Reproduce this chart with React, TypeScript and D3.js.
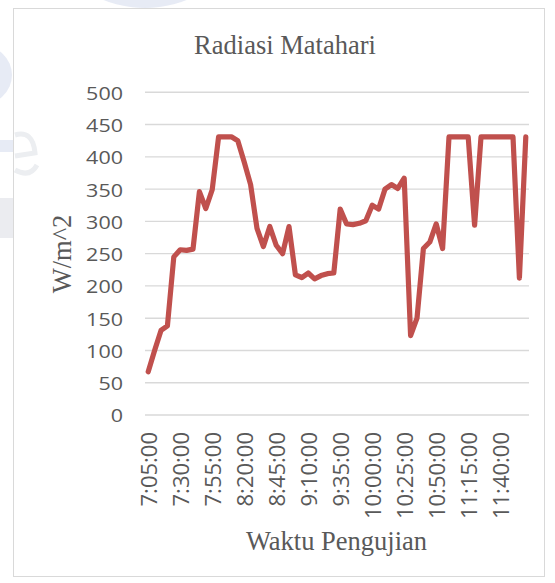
import React from "react";
import * as d3 from "d3";

const times: string[] = [
  "7:05:00", "7:10:00", "7:15:00", "7:20:00", "7:25:00", "7:30:00", "7:35:00", "7:40:00", "7:45:00", "7:50:00",
  "7:55:00", "8:00:00", "8:05:00", "8:10:00", "8:15:00", "8:20:00", "8:25:00", "8:30:00", "8:35:00", "8:40:00",
  "8:45:00", "8:50:00", "8:55:00", "9:00:00", "9:05:00", "9:10:00", "9:15:00", "9:20:00", "9:25:00", "9:30:00",
  "9:35:00", "9:40:00", "9:45:00", "9:50:00", "9:55:00", "10:00:00", "10:05:00", "10:10:00", "10:15:00", "10:20:00",
  "10:25:00", "10:30:00", "10:35:00", "10:40:00", "10:45:00", "10:50:00", "10:55:00", "11:00:00", "11:05:00", "11:10:00",
  "11:15:00", "11:20:00", "11:25:00", "11:30:00", "11:35:00", "11:40:00", "11:45:00", "11:50:00", "11:55:00", "12:00:00",
];

const radiasi: number[] = [
  67, 100, 131, 138, 245, 256, 255, 257, 346, 320,
  349, 431, 431, 431, 425, 392, 357, 289, 261, 292,
  263, 250, 292, 217, 213, 220, 211, 216, 219, 220,
  319, 296, 295, 297, 301, 325, 319, 350, 357, 351,
  367, 123, 150, 258, 268, 296, 258, 431, 431, 431,
  431, 294, 431, 431, 431, 431, 431, 431, 212, 431,
];

const yTicks: number[] = [0, 50, 100, 150, 200, 250, 300, 350, 400, 450, 500];
const labelEvery = 5;

const title = "Radiasi Matahari";
const xTitle = "Waktu Pengujian";
const yTitle = "W/m^2";

export default function App() {
  const W = 555;
  const H = 583;
  const left = 145;
  const right = 529;
  const top = 92.3;
  const bottom = 415;

  const x = d3.scaleBand<string>().domain(times).range([left, right]).padding(0);
  const y = d3.scaleLinear().domain([0, 500]).range([bottom, top]);
  const cx = (t: string) => (x(t) as number) + x.bandwidth() / 2;

  const line = d3
    .line<number>()
    .x((_, i) => cx(times[i]))
    .y((v) => y(v));

  const textColor = "#595959";
  const sans = "'Open Sans', 'Noto Sans', sans-serif";
  const serif = "'Liberation Serif', 'DejaVu Serif', serif";

  return (
    <svg
      width={W}
      height={H}
      style={{ position: "absolute", left: 0, top: 0, display: "block" }}
    >
      <rect x={0} y={0} width={W} height={H} fill="#ffffff" />
      {/* faint watermark pieces */}
      <ellipse cx={145} cy={-40} rx={75} ry={48} fill="#dde2f1" opacity={0.7} />
      <ellipse cx={-20} cy={75} rx={32} ry={30} fill="#dde2f1" opacity={0.7} />
      <rect x={0} y={140} width={14} height={12} fill="#dde2f1" opacity={0.7} />
      <rect x={0} y={198} width={14} height={40} fill="#e2e4ea" opacity={0.7} />

      <rect x={13.5} y={8.5} width={531} height={568} fill="#ffffff" stroke="#d9d9d9" strokeWidth={1} />
      <path d="M 15 135 q 18 -5 20 18 l -20 3 M 15 170 q 15 8 22 -5" fill="none" stroke="#eceef1" strokeWidth={5} />

      <text
        x={285}
        y={54}
        textAnchor="middle"
        fontFamily={serif}
        fontSize={26.5}
        fill={textColor}
      >
        {title}
      </text>

      {yTicks.map((t) => (
        <line
          key={"g" + t}
          x1={left}
          x2={right}
          y1={y(t)}
          y2={y(t)}
          stroke="#d9d9d9"
          strokeWidth={1.4}
        />
      ))}

      {yTicks.map((t) => (
        <text
          key={"yl" + t}
          transform={`translate(123,${y(t)}) scale(1,0.87)`}
          textAnchor="end"
          dominantBaseline="central"
          fontFamily={sans}
          fontSize={21.5}
          fill={textColor}
        >
          {t}
        </text>
      ))}

      {times.map((t, i) =>
        i % labelEvery === 0 ? (
          <text
            key={"xl" + t}
            transform={`translate(${cx(t)},432) rotate(-90)`}
            textAnchor="end"
            dominantBaseline="central"
            fontFamily={sans}
            fontSize={22}
            fill={textColor}
          >
            {t}
          </text>
        ) : null
      )}

      <path
        d={line(radiasi) || ""}
        fill="none"
        stroke="#c0504d"
        strokeWidth={5.2}
        strokeLinejoin="round"
        strokeLinecap="round"
      />

      <text
        x={336.5}
        y={550}
        textAnchor="middle"
        fontFamily={serif}
        fontSize={26.5}
        fill={textColor}
      >
        {xTitle}
      </text>

      <text
        transform={`translate(71,254) rotate(-90)`}
        textAnchor="middle"
        fontFamily={serif}
        fontSize={26.5}
        fill={textColor}
      >
        {yTitle}
      </text>
    </svg>
  );
}
